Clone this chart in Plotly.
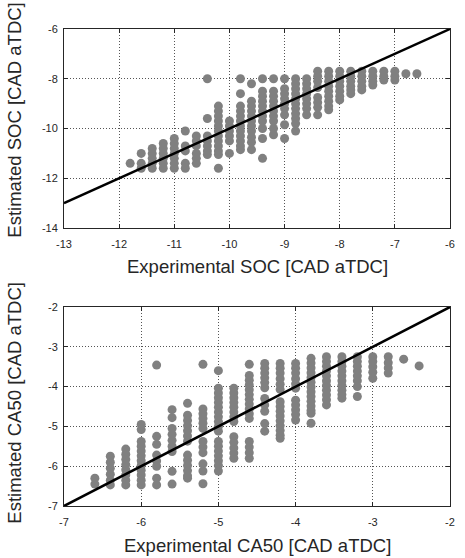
import plotly.graph_objects as go

# ---------------- data: top panel (SOC) ----------------
soc_exp = [-11.8, -11.6, -11.4, -11.2, -11.0, -10.8, -10.6, -10.4, -10.2, -10.0,
           -9.8, -9.6, -9.4, -9.2, -9.0, -8.8, -8.6, -8.4, -8.2, -8.0,
           -7.8, -7.6, -7.4, -7.2, -7.0, -6.8, -6.6]
soc_est = [
    [-11.4],
    [-11.0, -11.4, -11.6],
    [-10.8, -11.0, -11.2, -11.4, -11.6],
    [-10.6, -10.8, -11.0, -11.2, -11.4, -11.6],
    [-10.4, -10.6, -10.8, -11.0, -11.2, -11.4, -11.6],
    [-10.1, -10.7, -10.9, -11.4, -11.6],
    [-10.3, -10.5, -10.7, -11.0, -11.2, -11.4],
    [-8.0, -9.6, -10.3, -10.5, -10.7, -10.9, -11.05],
    [-9.1, -9.3, -9.5, -9.7, -9.9, -10.1, -10.3, -10.5, -10.7, -10.9, -11.05, -11.6],
    [-9.7, -9.9, -10.1, -10.3, -10.5, -11.0],
    [-8.0, -8.6, -9.1, -9.3, -9.5, -9.7, -9.9, -10.1, -10.3, -10.5, -10.7, -10.85],
    [-8.2, -8.9, -9.1, -9.3, -9.5, -9.7, -9.9, -10.1, -10.35, -10.55, -10.85],
    [-8.0, -8.5, -8.7, -8.9, -9.1, -9.3, -9.5, -9.7, -10.0, -10.4, -11.2],
    [-8.0, -8.5, -8.7, -8.9, -9.1, -9.3, -9.5, -9.7, -10.0, -10.25],
    [-8.0, -8.4, -8.6, -8.8, -9.0, -9.2, -9.45, -9.85, -10.4],
    [-8.0, -8.2, -8.4, -8.6, -8.8, -9.0, -9.2, -9.4, -9.6, -9.8, -10.1],
    [-8.0, -8.2, -8.4, -8.6, -8.8, -9.0, -9.2, -9.45],
    [-7.7, -7.9, -8.1, -8.35, -8.75, -8.95, -9.15, -9.45],
    [-7.7, -7.9, -8.1, -8.3, -8.5, -8.7, -8.9, -9.1, -9.25],
    [-7.7, -7.9, -8.1, -8.3, -8.5, -8.7, -8.85],
    [-7.7, -7.9, -8.1, -8.3, -8.45, -8.6],
    [-7.7, -7.9, -8.1, -8.3, -8.45],
    [-7.7, -7.9, -8.1, -8.25],
    [-7.7, -7.9, -8.05],
    [-7.7, -7.9, -8.05],
    [-7.8],
    [-7.8],
]

# ---------------- data: bottom panel (CA50) ----------------
ca50_exp = [-6.6, -6.4, -6.2, -6.0, -5.8, -5.6, -5.4, -5.2, -5.0, -4.8,
            -4.6, -4.4, -4.2, -4.0, -3.8, -3.6, -3.4, -3.2, -3.0, -2.8,
            -2.6, -2.4]
ca50_est = [
    [-6.3, -6.45],
    [-5.75, -5.9, -6.05, -6.2, -6.35, -6.47],
    [-5.57, -5.7, -5.83, -5.96, -6.09, -6.22, -6.35, -6.47],
    [-4.95, -5.08, -5.38, -5.5, -5.62, -5.74, -5.86, -5.98, -6.1, -6.22, -6.35, -6.47],
    [-3.46, -5.25, -5.45, -5.72, -5.87, -6.0, -6.3, -6.47],
    [-4.58, -4.78, -5.05, -5.2, -5.35, -5.5, -5.63, -6.13, -6.45],
    [-4.42, -4.72, -4.85, -4.98, -5.11, -5.24, -5.37, -5.72, -5.85, -5.98, -6.11, -6.24, -6.3],
    [-3.44, -4.56, -4.68, -4.8, -4.92, -5.05, -5.38, -5.52, -5.66, -5.94, -6.12, -6.44],
    [-3.6, -4.04, -4.16, -4.28, -4.4, -4.52, -4.64, -4.76, -4.88, -5.0, -5.12,
     -5.38, -5.5, -5.62, -5.74, -5.86, -5.98, -6.12],
    [-4.04, -4.16, -4.28, -4.4, -4.52, -4.64, -4.76, -4.88, -5.26, -5.4, -5.54, -5.67, -5.8],
    [-3.44, -3.72, -3.84, -3.96, -4.08, -4.2, -4.32, -4.44, -4.56, -4.68, -4.8,
     -5.38, -5.52, -5.66, -5.8],
    [-3.42, -3.54, -3.66, -3.78, -3.9, -4.03, -4.3, -4.46, -4.62, -4.93, -5.12],
    [-3.42, -3.54, -3.66, -3.8, -3.94, -4.07, -4.38, -4.5, -4.62, -4.74, -4.86,
     -4.98, -5.1, -5.22, -5.3],
    [-3.42, -3.54, -3.66, -3.8, -3.93, -4.04, -4.34, -4.46, -4.58, -4.7, -4.84],
    [-3.29, -3.41, -3.53, -3.65, -3.77, -3.89, -4.01, -4.13, -4.25, -4.37, -4.49,
     -4.6, -4.67, -4.92],
    [-3.25, -3.37, -3.49, -3.61, -3.73, -3.85, -3.97, -4.09, -4.21, -4.33, -4.46],
    [-3.25, -3.37, -3.49, -3.61, -3.73, -3.85, -3.97, -4.09, -4.2, -4.29],
    [-3.25, -3.37, -3.49, -3.61, -3.73, -3.85, -4.0, -4.25],
    [-3.25, -3.37, -3.5, -3.64, -3.79],
    [-3.25, -3.4, -3.53, -3.66],
    [-3.31],
    [-3.48],
]

# ideal (y = x) reference lines
soc_ideal = [-13, -6]
ca50_ideal = [-7, -2]

# tick values / labels
soc_x_ticks = [-13, -12, -11, -10, -9, -8, -7, -6]
soc_x_labels = ["-13", "-12", "-11", "-10", "-9", "-8", "-7", "-6"]
soc_y_ticks = [-14, -12, -10, -8, -6]
soc_y_labels = ["-14", "-12", "-10", "-8", "-6"]
ca50_ticks = [-7, -6, -5, -4, -3, -2]
ca50_labels = ["-7", "-6", "-5", "-4", "-3", "-2"]


def flatten(xs, ys):
    fx, fy = [], []
    for xv, col in zip(xs, ys):
        for yv in col:
            fx.append(xv)
            fy.append(yv)
    return fx, fy


sx, sy = flatten(soc_exp, soc_est)
cx, cy = flatten(ca50_exp, ca50_est)

GRAY = "#808080"
marker = dict(color=GRAY, size=9, line=dict(width=0))

fig = go.Figure()
fig.add_trace(go.Scatter(x=sx, y=sy, mode="markers", marker=marker,
                         xaxis="x", yaxis="y", showlegend=False))
fig.add_trace(go.Scatter(x=soc_ideal, y=soc_ideal, mode="lines",
                         line=dict(color="black", width=2.5),
                         xaxis="x", yaxis="y", showlegend=False))
fig.add_trace(go.Scatter(x=cx, y=cy, mode="markers", marker=marker,
                         xaxis="x2", yaxis="y2", showlegend=False))
fig.add_trace(go.Scatter(x=ca50_ideal, y=ca50_ideal, mode="lines",
                         line=dict(color="black", width=2.5),
                         xaxis="x2", yaxis="y2", showlegend=False))

FONT = "Liberation Sans, Arial, sans-serif"
tickfont = dict(family=FONT, size=11, color="#262626")
common = dict(
    showline=True, linecolor="#262626", linewidth=1, mirror="ticks",
    ticks="inside", ticklen=4, tickcolor="#262626",
    showgrid=True, gridcolor="#555555", griddash="1px,2px", gridwidth=1,
    zeroline=False, tickfont=tickfont, ticklabeloverflow="allow",
)

H_PLOT = 477.0
W_PLOT = 391.0
fig.update_layout(
    width=465, height=558,
    margin=dict(l=64, r=10, t=29, b=52),
    paper_bgcolor="white", plot_bgcolor="white",
    font=dict(family=FONT, color="#262626"),
    xaxis=dict(domain=[0, 1], anchor="y", range=[-13, -6], tickvals=soc_x_ticks,
               ticktext=soc_x_labels, ticklabelstandoff=6, **common),
    yaxis=dict(domain=[1 - 199 / H_PLOT, 1], anchor="x", range=[-14, -6],
               tickvals=soc_y_ticks, ticktext=soc_y_labels, ticklabelstandoff=3, **common),
    xaxis2=dict(domain=[0, 1], anchor="y2", range=[-7, -2], tickvals=ca50_ticks,
                ticktext=ca50_labels, ticklabelstandoff=6, **common),
    yaxis2=dict(domain=[0, 199 / H_PLOT], anchor="x2", range=[-7, -2],
                tickvals=ca50_ticks, ticktext=ca50_labels, ticklabelstandoff=3, **common),
)

title_font = dict(family=FONT, size=18.5, color="#262626")
annots = [
    dict(text="Experimental SOC [CAD aTDC]", x=0.5, y=(506 - 266) / H_PLOT),
    dict(text="Experimental CA50 [CAD aTDC]", x=0.5, y=(506 - 545) / H_PLOT),
    dict(text="Estimated SOC [CAD aTDC]", x=(13 - 64) / W_PLOT, y=(506 - 120) / H_PLOT,
         textangle=-90),
    dict(text="Estimated CA50 [CAD aTDC]", x=(13 - 64) / W_PLOT, y=(506 - 403) / H_PLOT,
         textangle=-90),
]
for a in annots:
    fig.add_annotation(xref="paper", yref="paper", showarrow=False,
                       xanchor="center", yanchor="middle", font=title_font, **a)

# remove the default 8 px page margin so the figure fills the window exactly
fig.write_html("out.html",
               config={"displayModeBar": False},
               post_script="document.body.style.margin='0';document.body.style.padding='0';")
